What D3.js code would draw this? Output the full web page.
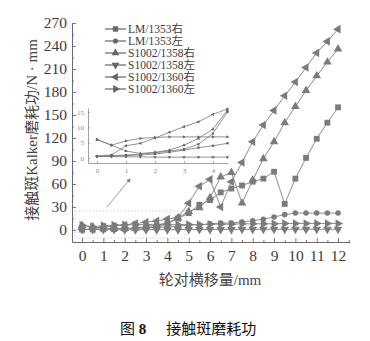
<!DOCTYPE html>
<html>
<head>
<meta charset="utf-8">
<script src="https://cdn.jsdelivr.net/npm/d3@7"></script>
<style>
  html, body { margin: 0; padding: 0; background: #fff; }
  svg { display: block; }
  text { font-family: "Liberation Serif", "Times New Roman", "Noto Sans CJK SC", serif; }
</style>
</head>
<body>
<svg id="chart" width="370" height="341"></svg>
<script>
// Lateral displacement of the wheelset (mm), sampled every 0.5 mm
const shifts = d3.range(0, 12.01, 0.5);

// Contact-patch Kalker wear work (N·mm) for each wheel/rail pairing
const lm1353Right   = [0.6, 0.8, 1.0, 1.3, 1.7, 2.3, 2.9, 4.5, 8, 15, 22, 33, 39, 49, 54, 58, 63, 67, 76, 34, 67, 94, 119, 140, 160];
const lm1353Left    = [0.6, 0.6, 0.8, 1.0, 1.3, 1.9, 2.6, 3.4, 4.0, 4.8, 6.5, 6.5, 8, 9, 9, 10.5, 12, 14, 17, 20, 22, 22, 22, 22, 22];
const s1358Right    = [6.0, 4.2, 2.3, 1.5, 1.9, 2.6, 4.2, 6.4, 9.4, 15.6, 24, 29, 42, 69, 75, 35, 65, 93, 115, 140, 161, 182, 201, 219, 236];
const s1358Left     = [0.5, 0.5, 0.4, 0.4, 0.3, 0.3, 0.3, 0.3, 0.3, 0.3, 0.6, 0.6, 0.7, 0.7, 0.7, 0.8, 0.8, 0.8, 0.8, 0.9, 0.9, 0.9, 0.9, 0.9, 0.9];
const s1360Right    = [0.6, 1.0, 4.0, 4.8, 6.5, 8.4, 10.2, 11.8, 14.2, 16, 35, 57, 66, 30, 63, 88, 115, 137, 156, 175, 193, 212, 231, 246, 262];
const s1360Left     = [6.1, 4.2, 5.6, 6.4, 6.7, 6.9, 6.9, 6.9, 6.9, 6.9, 7, 7, 7.5, 7.5, 7.5, 8, 8, 8, 8, 8.5, 8.5, 8.5, 8.5, 8.5, 8.5];

const seriesNames = ["LM/1353右", "LM/1353左", "S1002/1358右", "S1002/1358左", "S1002/1360右", "S1002/1360左"];
const seriesValues = [lm1353Right, lm1353Left, s1358Right, s1358Left, s1360Right, s1360Left];

// Tick labels
const xTicks = d3.range(0, 13, 1);
const yTicks = d3.range(0, 271, 30);
const insetXTicks = [0, 1, 2, 3, 4];
const insetYTicks = [0, 5, 10, 15];

const xTitle = "轮对横移量/mm";
const yTitle = "接触斑Kalker磨耗功/N · mm";

// Marker shapes: square, circle, and triangles pointing up / down / left / right
const markers = [
  { type: d3.symbolSquare,   rot: 0,   size: 34 },
  { type: d3.symbolCircle,   rot: 0,   size: 24 },
  { type: d3.symbolTriangle, rot: 0,   size: 32 },
  { type: d3.symbolTriangle, rot: 180, size: 32 },
  { type: d3.symbolTriangle, rot: -90, size: 32 },
  { type: d3.symbolTriangle, rot: 90,  size: 32 }
];

const svg = d3.select("#chart");
const lineColor = "#8c8c8c";
const markColor = "#7b7b7b";
const axisColor = "#6a6a6a";
const labelColor = "#3c3c3c";
const intFmt = d3.format("d");

// ---------- main chart ----------
const x = d3.scaleLinear().domain([-0.47, 12.56]).range([72, 350]);
const y = d3.scaleLinear().domain([-15.7, 270]).range([242, 23]);

// zoom-window marker around the low values
svg.append("rect")
  .attr("x", 75).attr("y", 211).attr("width", 110).attr("height", 27)
  .attr("fill", "none").attr("stroke", "#c4c4c4").attr("stroke-width", 0.8)
  .attr("stroke-dasharray", "1.5,2");

// x axis with minor ticks at half millimetres
const gx = svg.append("g").attr("transform", "translate(0,242)");
gx.call(d3.axisBottom(x).tickValues(xTicks).tickFormat(intFmt).tickSizeInner(-4).tickSizeOuter(0).tickPadding(8));
svg.append("g").attr("transform", "translate(0,242)")
  .call(d3.axisBottom(x).tickValues(d3.range(0.5, 12.6, 1)).tickSizeInner(-2).tickSizeOuter(0).tickFormat(""))
  .call(g => g.select(".domain").remove());

// y axis with minor ticks
const gy = svg.append("g").attr("transform", "translate(72,0)");
gy.call(d3.axisLeft(y).tickValues(yTicks).tickFormat(intFmt).tickSizeInner(-4).tickSizeOuter(0).tickPadding(5));
svg.append("g").attr("transform", "translate(72,0)")
  .call(d3.axisLeft(y).tickValues(d3.range(15, 270, 30)).tickSizeInner(-2).tickSizeOuter(0).tickFormat(""))
  .call(g => g.select(".domain").remove());

svg.selectAll(".domain").attr("stroke", axisColor).attr("stroke-width", 1);
svg.selectAll(".tick line").attr("stroke", axisColor).attr("stroke-width", 0.9);
[gx, gy].forEach(g => g.selectAll(".tick text")
  .attr("font-size", 15.5).attr("fill", labelColor)
  .attr("font-family", "'Liberation Serif', serif"));

// series lines and markers
const mainLine = d3.line().x((d, i) => x(shifts[i])).y(d => y(d));
seriesValues.forEach((vals, k) => {
  svg.append("path").datum(vals)
    .attr("d", mainLine).attr("fill", "none")
    .attr("stroke", lineColor).attr("stroke-width", 1);
  const m = markers[k];
  svg.append("g").selectAll("path").data(vals).join("path")
    .attr("d", d3.symbol().type(m.type).size(m.size))
    .attr("transform", (d, i) => `translate(${x(shifts[i])},${y(d)}) rotate(${m.rot})`)
    .attr("fill", markColor);
});

// ---------- legend ----------
const legend = svg.append("g");
seriesNames.forEach((name, k) => {
  const ly = 29 + k * 12;
  legend.append("line").attr("x1", 105).attr("x2", 126).attr("y1", ly).attr("y2", ly)
    .attr("stroke", "#666").attr("stroke-width", 1.2);
  const m = markers[k];
  legend.append("path")
    .attr("d", d3.symbol().type(m.type).size(m.size * 0.85))
    .attr("transform", `translate(115.5,${ly}) rotate(${m.rot})`)
    .attr("fill", "#666");
  legend.append("text").attr("x", 128).attr("y", ly + 4)
    .attr("font-size", 11.5).attr("fill", labelColor).text(name);
});

// ---------- inset: detail of 0–4.5 mm ----------
const ix = d3.scaleLinear().domain([-0.31, 4.52]).range([88, 228]);
const iy = d3.scaleLinear().domain([-1.6, 16.3]).range([163, 108]);
const inset = svg.append("g");

const igx = inset.append("g").attr("transform", "translate(0,163)")
  .call(d3.axisBottom(ix).tickValues(insetXTicks).tickFormat(intFmt).tickSizeInner(-2).tickSizeOuter(0).tickPadding(5));
const igy = inset.append("g").attr("transform", "translate(88,0)")
  .call(d3.axisLeft(iy).tickValues(insetYTicks).tickFormat(intFmt).tickSizeInner(-2).tickSizeOuter(0).tickPadding(4));
[igx, igy].forEach(g => {
  g.select(".domain").attr("stroke", "#8a8a8a").attr("stroke-width", 0.8);
  g.selectAll(".tick line").attr("stroke", "#8a8a8a").attr("stroke-width", 0.7);
  g.selectAll(".tick text").attr("font-size", 7).attr("fill", "#888");
});

const nInset = 10; // 0 … 4.5 mm
const insetLine = d3.line().x((d, i) => ix(shifts[i])).y(d => iy(d));
seriesValues.forEach((vals, k) => {
  const part = vals.slice(0, nInset);
  inset.append("path").datum(part)
    .attr("d", insetLine).attr("fill", "none")
    .attr("stroke", "#777").attr("stroke-width", 0.8);
  const m = markers[k];
  inset.append("g").selectAll("path").data(part).join("path")
    .attr("d", d3.symbol().type(m.type).size(5))
    .attr("transform", (d, i) => `translate(${ix(shifts[i])},${iy(d)}) rotate(${m.rot})`)
    .attr("fill", "#666");
});

// arrow from the zoom window up to the inset
const defs = svg.append("defs");
defs.append("marker").attr("id", "arrowhead")
  .attr("viewBox", "0 0 10 10").attr("refX", 8).attr("refY", 5)
  .attr("markerWidth", 5).attr("markerHeight", 5).attr("orient", "auto")
  .append("path").attr("d", "M0,0 L10,5 L0,10 Z").attr("fill", "#777");
svg.append("line")
  .attr("x1", 107).attr("y1", 207).attr("x2", 130).attr("y2", 179)
  .attr("stroke", "#888").attr("stroke-width", 0.8)
  .attr("marker-end", "url(#arrowhead)");

// ---------- titles ----------
svg.append("text")
  .attr("transform", "translate(37,130) rotate(-90)")
  .attr("text-anchor", "middle").attr("font-size", 15).attr("fill", "#444")
  .text(yTitle);

svg.append("text")
  .attr("x", 210).attr("y", 285).attr("text-anchor", "middle")
  .attr("font-size", 15).attr("fill", "#444")
  .text(xTitle);

const cap = svg.append("text").attr("x", 120).attr("y", 334)
  .attr("font-size", 15).attr("fill", "#111");
cap.append("tspan").text("图 ");
cap.append("tspan").attr("font-weight", "bold").text("8");
cap.append("tspan").attr("dx", 20).text("接触斑磨耗功");
</script>
</body>
</html>
